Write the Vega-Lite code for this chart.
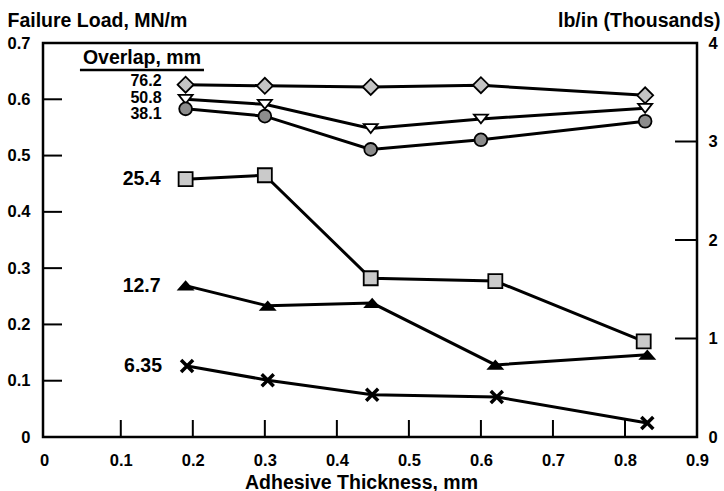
{
  "$schema": "https://vega.github.io/schema/vega-lite/v6.json",
  "width": 654,
  "height": 394,
  "autosize": {"type": "none"},
  "padding": {"left": 43, "top": 43, "right": 27, "bottom": 54},
  "background": "white",
  "config": {
    "font": "Liberation Sans",
    "view": {"stroke": "black", "strokeWidth": 2.5},
    "axis": {
      "domain": false, "ticks": false, "tickSize": 0,
      "labelColor": "black", "titleColor": "black", "labelFont": "Liberation Sans",
      "labelFontWeight": "bold", "labelFontSize": 16.5, "titleFont": "Liberation Sans",
      "titleFontWeight": "bold", "titleFontSize": 19.5, "grid": false
    },
    "text": {"font": "Liberation Sans", "fontWeight": "bold", "color": "black"}
  },
  "data": {
    "values": [
      {"overlap": "76.2", "t": 0.19, "load": 0.626},
      {"overlap": "76.2", "t": 0.30, "load": 0.624},
      {"overlap": "76.2", "t": 0.447, "load": 0.622},
      {"overlap": "76.2", "t": 0.60, "load": 0.625},
      {"overlap": "76.2", "t": 0.828, "load": 0.607},
      {"overlap": "50.8", "t": 0.19, "load": 0.600},
      {"overlap": "50.8", "t": 0.30, "load": 0.591},
      {"overlap": "50.8", "t": 0.447, "load": 0.548},
      {"overlap": "50.8", "t": 0.60, "load": 0.565},
      {"overlap": "50.8", "t": 0.828, "load": 0.584},
      {"overlap": "38.1", "t": 0.19, "load": 0.583},
      {"overlap": "38.1", "t": 0.30, "load": 0.570},
      {"overlap": "38.1", "t": 0.447, "load": 0.511},
      {"overlap": "38.1", "t": 0.60, "load": 0.528},
      {"overlap": "38.1", "t": 0.828, "load": 0.561},
      {"overlap": "25.4", "t": 0.19, "load": 0.458},
      {"overlap": "25.4", "t": 0.30, "load": 0.465},
      {"overlap": "25.4", "t": 0.447, "load": 0.282},
      {"overlap": "25.4", "t": 0.62, "load": 0.277},
      {"overlap": "25.4", "t": 0.826, "load": 0.170},
      {"overlap": "12.7", "t": 0.19, "load": 0.269},
      {"overlap": "12.7", "t": 0.304, "load": 0.233},
      {"overlap": "12.7", "t": 0.449, "load": 0.238},
      {"overlap": "12.7", "t": 0.62, "load": 0.128},
      {"overlap": "12.7", "t": 0.831, "load": 0.146},
      {"overlap": "6.35", "t": 0.192, "load": 0.126},
      {"overlap": "6.35", "t": 0.304, "load": 0.101},
      {"overlap": "6.35", "t": 0.449, "load": 0.075},
      {"overlap": "6.35", "t": 0.622, "load": 0.071},
      {"overlap": "6.35", "t": 0.831, "load": 0.025}
    ]
  },
  "resolve": {"scale": {"y": "independent"}, "axis": {"y": "independent"}},
  "layer": [
    {
      "layer": [
        {
          "data": {"values": [{"v": 0.1}, {"v": 0.2}, {"v": 0.3}, {"v": 0.4}, {"v": 0.5}, {"v": 0.6}, {"v": 0.7}, {"v": 0.8}]},
          "mark": {"type": "rule", "color": "black", "strokeWidth": 2},
          "encoding": {
            "x": {"field": "v", "type": "quantitative", "scale": {"domain": [-0.008, 0.9], "nice": false, "zero": false},
              "axis": {"orient": "bottom", "values": [0, 0.1, 0.2, 0.3, 0.4, 0.5, 0.6, 0.7, 0.8, 0.9], "format": "~g", "labelPadding": 15, "labelBaseline": "top", "labelFlush": false, "labelOverlap": false,
                "labelAlign": {"condition": {"test": "datum.value === 0", "value": "right"}, "value": "center"},
                "title": "Adhesive Thickness, mm", "titleX": 318, "titleY": 51, "titleBaseline": "alphabetic", "titleAlign": "center"}},
            "y": {"datum": 0, "type": "quantitative", "scale": {"domain": [0, 0.7], "nice": false},
              "axis": {"orient": "left", "values": [0, 0.1, 0.2, 0.3, 0.4, 0.5, 0.6, 0.7], "format": "~g", "labelPadding": 13, "labelFlush": false, "labelOverlap": false,
                "title": "Failure Load, MN/m", "titleAngle": 0, "titleAlign": "left", "titleBaseline": "alphabetic", "titleX": -36, "titleY": -17}},
            "y2": {"datum": 0.0302}
          }
        },
        {
          "data": {"values": [{"v": 0.1}, {"v": 0.2}, {"v": 0.3}, {"v": 0.4}, {"v": 0.5}, {"v": 0.6}]},
          "mark": {"type": "rule", "color": "black", "strokeWidth": 2},
          "encoding": {
            "x": {"datum": -0.008, "type": "quantitative", "scale": {"domain": [-0.008, 0.9], "nice": false, "zero": false},
              "axis": {"orient": "bottom", "values": [0, 0.1, 0.2, 0.3, 0.4, 0.5, 0.6, 0.7, 0.8, 0.9], "format": "~g", "labelPadding": 15, "labelBaseline": "top", "labelFlush": false, "labelOverlap": false,
                "labelAlign": {"condition": {"test": "datum.value === 0", "value": "right"}, "value": "center"},
                "title": "Adhesive Thickness, mm", "titleX": 318, "titleY": 51, "titleBaseline": "alphabetic", "titleAlign": "center"}},
            "x2": {"datum": 0.0184},
            "y": {"field": "v", "type": "quantitative", "scale": {"domain": [0, 0.7], "nice": false},
              "axis": {"orient": "left", "values": [0, 0.1, 0.2, 0.3, 0.4, 0.5, 0.6, 0.7], "format": "~g", "labelPadding": 13, "labelFlush": false, "labelOverlap": false,
                "title": "Failure Load, MN/m", "titleAngle": 0, "titleAlign": "left", "titleBaseline": "alphabetic", "titleX": -36, "titleY": -17}}
          }
        },
        {
          "mark": {"type": "line", "color": "black", "strokeWidth": 3},
          "encoding": {
            "x": {"field": "t", "type": "quantitative", "scale": {"domain": [-0.008, 0.9], "nice": false, "zero": false},
              "axis": {"orient": "bottom", "values": [0, 0.1, 0.2, 0.3, 0.4, 0.5, 0.6, 0.7, 0.8, 0.9], "format": "~g", "labelPadding": 15, "labelBaseline": "top", "labelFlush": false, "labelOverlap": false,
                "labelAlign": {"condition": {"test": "datum.value === 0", "value": "right"}, "value": "center"},
                "title": "Adhesive Thickness, mm", "titleX": 318, "titleY": 51, "titleBaseline": "alphabetic", "titleAlign": "center"}},
            "y": {"field": "load", "type": "quantitative", "scale": {"domain": [0, 0.7], "nice": false},
              "axis": {"orient": "left", "values": [0, 0.1, 0.2, 0.3, 0.4, 0.5, 0.6, 0.7], "format": "~g", "labelPadding": 13, "labelFlush": false, "labelOverlap": false,
                "title": "Failure Load, MN/m", "titleAngle": 0, "titleAlign": "left", "titleBaseline": "alphabetic", "titleX": -36, "titleY": -17}},
            "detail": {"field": "overlap", "type": "nominal"}
          }
        },
        {
          "mark": {"type": "point", "filled": true, "stroke": "black", "size": 256, "opacity": 1, "strokeOpacity": 1, "fillOpacity": 1},
          "encoding": {
            "x": {"field": "t", "type": "quantitative", "scale": {"domain": [-0.008, 0.9], "nice": false, "zero": false},
              "axis": {"orient": "bottom", "values": [0, 0.1, 0.2, 0.3, 0.4, 0.5, 0.6, 0.7, 0.8, 0.9], "format": "~g", "labelPadding": 15, "labelBaseline": "top", "labelFlush": false, "labelOverlap": false,
                "labelAlign": {"condition": {"test": "datum.value === 0", "value": "right"}, "value": "center"},
                "title": "Adhesive Thickness, mm", "titleX": 318, "titleY": 51, "titleBaseline": "alphabetic", "titleAlign": "center"}},
            "y": {"field": "load", "type": "quantitative", "scale": {"domain": [0, 0.7], "nice": false},
              "axis": {"orient": "left", "values": [0, 0.1, 0.2, 0.3, 0.4, 0.5, 0.6, 0.7], "format": "~g", "labelPadding": 13, "labelFlush": false, "labelOverlap": false,
                "title": "Failure Load, MN/m", "titleAngle": 0, "titleAlign": "left", "titleBaseline": "alphabetic", "titleX": -36, "titleY": -17}},
            "shape": {"field": "overlap", "type": "nominal", "legend": null,
              "scale": {"domain": ["76.2", "50.8", "38.1", "25.4", "12.7", "6.35"],
                "range": ["M-1,0L0,-1L1,0L0,1Z", "M-0.875,-0.55L0.875,-0.55L0,0.55Z", "M-0.8,0A0.8,0.8,0,1,1,0.8,0A0.8,0.8,0,1,1,-0.8,0Z", "M-0.875,-0.875L0.875,-0.875L0.875,0.875L-0.875,0.875Z", "M-0.875,0.5L0.875,0.5L0,-0.5Z", "M-0.75,-0.75L0.75,0.75M-0.75,0.75L0.75,-0.75"]}},
            "fill": {"field": "overlap", "type": "nominal", "legend": null,
              "scale": {"domain": ["76.2", "50.8", "38.1", "25.4", "12.7", "6.35"],
                "range": ["#c4c4c4", "#ffffff", "#8c8c8c", "#cacaca", "#000000", "#000000"]}},
            "strokeWidth": {"condition": {"test": "datum.overlap === '6.35'", "value": 3.5}, "value": 1.8}
          }
        },
        {
          "transform": [{"filter": "datum.t < 0.2 && datum.overlap === '50.8'"}],
          "mark": {"type": "text", "align": "right", "baseline": "middle", "dx": -24, "dy": -1, "fontSize": 16},
          "encoding": {
            "x": {"field": "t", "type": "quantitative", "scale": {"domain": [-0.008, 0.9], "nice": false, "zero": false},
              "axis": {"orient": "bottom", "values": [0, 0.1, 0.2, 0.3, 0.4, 0.5, 0.6, 0.7, 0.8, 0.9], "format": "~g", "labelPadding": 15, "labelBaseline": "top", "labelFlush": false, "labelOverlap": false,
                "labelAlign": {"condition": {"test": "datum.value === 0", "value": "right"}, "value": "center"},
                "title": "Adhesive Thickness, mm", "titleX": 318, "titleY": 51, "titleBaseline": "alphabetic", "titleAlign": "center"}},
            "y": {"field": "load", "type": "quantitative", "scale": {"domain": [0, 0.7], "nice": false},
              "axis": {"orient": "left", "values": [0, 0.1, 0.2, 0.3, 0.4, 0.5, 0.6, 0.7], "format": "~g", "labelPadding": 13, "labelFlush": false, "labelOverlap": false,
                "title": "Failure Load, MN/m", "titleAngle": 0, "titleAlign": "left", "titleBaseline": "alphabetic", "titleX": -36, "titleY": -17}},
            "text": {"field": "overlap", "type": "nominal"}
          }
        },
        {
          "transform": [{"filter": "datum.t < 0.2 && datum.overlap === '76.2'"}],
          "mark": {"type": "text", "align": "right", "baseline": "middle", "dx": -24, "dy": -4, "fontSize": 16},
          "encoding": {
            "x": {"field": "t", "type": "quantitative", "scale": {"domain": [-0.008, 0.9], "nice": false, "zero": false},
              "axis": {"orient": "bottom", "values": [0, 0.1, 0.2, 0.3, 0.4, 0.5, 0.6, 0.7, 0.8, 0.9], "format": "~g", "labelPadding": 15, "labelBaseline": "top", "labelFlush": false, "labelOverlap": false,
                "labelAlign": {"condition": {"test": "datum.value === 0", "value": "right"}, "value": "center"},
                "title": "Adhesive Thickness, mm", "titleX": 318, "titleY": 51, "titleBaseline": "alphabetic", "titleAlign": "center"}},
            "y": {"field": "load", "type": "quantitative", "scale": {"domain": [0, 0.7], "nice": false},
              "axis": {"orient": "left", "values": [0, 0.1, 0.2, 0.3, 0.4, 0.5, 0.6, 0.7], "format": "~g", "labelPadding": 13, "labelFlush": false, "labelOverlap": false,
                "title": "Failure Load, MN/m", "titleAngle": 0, "titleAlign": "left", "titleBaseline": "alphabetic", "titleX": -36, "titleY": -17}},
            "text": {"field": "overlap", "type": "nominal"}
          }
        },
        {
          "transform": [{"filter": "datum.t < 0.2 && datum.overlap === '38.1'"}],
          "mark": {"type": "text", "align": "right", "baseline": "middle", "dx": -24, "dy": 5, "fontSize": 16},
          "encoding": {
            "x": {"field": "t", "type": "quantitative", "scale": {"domain": [-0.008, 0.9], "nice": false, "zero": false},
              "axis": {"orient": "bottom", "values": [0, 0.1, 0.2, 0.3, 0.4, 0.5, 0.6, 0.7, 0.8, 0.9], "format": "~g", "labelPadding": 15, "labelBaseline": "top", "labelFlush": false, "labelOverlap": false,
                "labelAlign": {"condition": {"test": "datum.value === 0", "value": "right"}, "value": "center"},
                "title": "Adhesive Thickness, mm", "titleX": 318, "titleY": 51, "titleBaseline": "alphabetic", "titleAlign": "center"}},
            "y": {"field": "load", "type": "quantitative", "scale": {"domain": [0, 0.7], "nice": false},
              "axis": {"orient": "left", "values": [0, 0.1, 0.2, 0.3, 0.4, 0.5, 0.6, 0.7], "format": "~g", "labelPadding": 13, "labelFlush": false, "labelOverlap": false,
                "title": "Failure Load, MN/m", "titleAngle": 0, "titleAlign": "left", "titleBaseline": "alphabetic", "titleX": -36, "titleY": -17}},
            "text": {"field": "overlap", "type": "nominal"}
          }
        },
        {
          "transform": [{"filter": "datum.t < 0.2 && (datum.overlap === '25.4' || datum.overlap === '12.7' || datum.overlap === '6.35')"}],
          "mark": {"type": "text", "align": "right", "baseline": "middle", "dx": -25, "fontSize": 19.5},
          "encoding": {
            "x": {"field": "t", "type": "quantitative", "scale": {"domain": [-0.008, 0.9], "nice": false, "zero": false},
              "axis": {"orient": "bottom", "values": [0, 0.1, 0.2, 0.3, 0.4, 0.5, 0.6, 0.7, 0.8, 0.9], "format": "~g", "labelPadding": 15, "labelBaseline": "top", "labelFlush": false, "labelOverlap": false,
                "labelAlign": {"condition": {"test": "datum.value === 0", "value": "right"}, "value": "center"},
                "title": "Adhesive Thickness, mm", "titleX": 318, "titleY": 51, "titleBaseline": "alphabetic", "titleAlign": "center"}},
            "y": {"field": "load", "type": "quantitative", "scale": {"domain": [0, 0.7], "nice": false},
              "axis": {"orient": "left", "values": [0, 0.1, 0.2, 0.3, 0.4, 0.5, 0.6, 0.7], "format": "~g", "labelPadding": 13, "labelFlush": false, "labelOverlap": false,
                "title": "Failure Load, MN/m", "titleAngle": 0, "titleAlign": "left", "titleBaseline": "alphabetic", "titleX": -36, "titleY": -17}},
            "text": {"field": "overlap", "type": "nominal"}
          }
        },
        {
          "data": {"values": [{"label": "Overlap, mm"}]},
          "mark": {"type": "text", "align": "center", "baseline": "alphabetic", "fontSize": 19.5},
          "encoding": {
            "x": {"datum": 0.1294, "type": "quantitative", "scale": {"domain": [-0.008, 0.9], "nice": false, "zero": false},
              "axis": {"orient": "bottom", "values": [0, 0.1, 0.2, 0.3, 0.4, 0.5, 0.6, 0.7, 0.8, 0.9], "format": "~g", "labelPadding": 15, "labelBaseline": "top", "labelFlush": false, "labelOverlap": false,
                "labelAlign": {"condition": {"test": "datum.value === 0", "value": "right"}, "value": "center"},
                "title": "Adhesive Thickness, mm", "titleX": 318, "titleY": 51, "titleBaseline": "alphabetic", "titleAlign": "center"}},
            "y": {"datum": 0.6625, "type": "quantitative", "scale": {"domain": [0, 0.7], "nice": false},
              "axis": {"orient": "left", "values": [0, 0.1, 0.2, 0.3, 0.4, 0.5, 0.6, 0.7], "format": "~g", "labelPadding": 13, "labelFlush": false, "labelOverlap": false,
                "title": "Failure Load, MN/m", "titleAngle": 0, "titleAlign": "left", "titleBaseline": "alphabetic", "titleX": -36, "titleY": -17}},
            "text": {"field": "label", "type": "nominal"}
          }
        },
        {
          "data": {"values": [{"label": "underline"}]},
          "mark": {"type": "rule", "color": "black", "strokeWidth": 2.5},
          "encoding": {
            "x": {"datum": 0.0433, "type": "quantitative", "scale": {"domain": [-0.008, 0.9], "nice": false, "zero": false},
              "axis": {"orient": "bottom", "values": [0, 0.1, 0.2, 0.3, 0.4, 0.5, 0.6, 0.7, 0.8, 0.9], "format": "~g", "labelPadding": 15, "labelBaseline": "top", "labelFlush": false, "labelOverlap": false,
                "labelAlign": {"condition": {"test": "datum.value === 0", "value": "right"}, "value": "center"},
                "title": "Adhesive Thickness, mm", "titleX": 318, "titleY": 51, "titleBaseline": "alphabetic", "titleAlign": "center"}},
            "x2": {"datum": 0.2155},
            "y": {"datum": 0.652, "type": "quantitative", "scale": {"domain": [0, 0.7], "nice": false},
              "axis": {"orient": "left", "values": [0, 0.1, 0.2, 0.3, 0.4, 0.5, 0.6, 0.7], "format": "~g", "labelPadding": 13, "labelFlush": false, "labelOverlap": false,
                "title": "Failure Load, MN/m", "titleAngle": 0, "titleAlign": "left", "titleBaseline": "alphabetic", "titleX": -36, "titleY": -17}}
          }
        }
      ]
    },
    {
      "data": {"values": [{"v": 1}, {"v": 2}, {"v": 3}]},
      "mark": {"type": "rule", "color": "black", "strokeWidth": 2},
      "encoding": {
        "x": {"datum": 0.8695, "type": "quantitative", "scale": {"domain": [-0.008, 0.9], "nice": false, "zero": false},
          "axis": {"orient": "bottom", "values": [0, 0.1, 0.2, 0.3, 0.4, 0.5, 0.6, 0.7, 0.8, 0.9], "format": "~g", "labelPadding": 15, "labelBaseline": "top", "labelFlush": false, "labelOverlap": false,
            "labelAlign": {"condition": {"test": "datum.value === 0", "value": "right"}, "value": "center"},
            "title": "Adhesive Thickness, mm", "titleX": 318, "titleY": 51, "titleBaseline": "alphabetic", "titleAlign": "center"}},
        "x2": {"datum": 0.9},
        "y": {"field": "v", "type": "quantitative", "scale": {"domain": [0, 4], "nice": false},
          "axis": {"orient": "right", "values": [0, 1, 2, 3, 4], "format": "~g", "labelPadding": 11, "labelFlush": false, "labelOverlap": false,
            "title": "lb/in (Thousands)", "titleAngle": 0, "titleAlign": "right", "titleBaseline": "alphabetic", "titleX": 23, "titleY": -17}}
      }
    }
  ]
}
